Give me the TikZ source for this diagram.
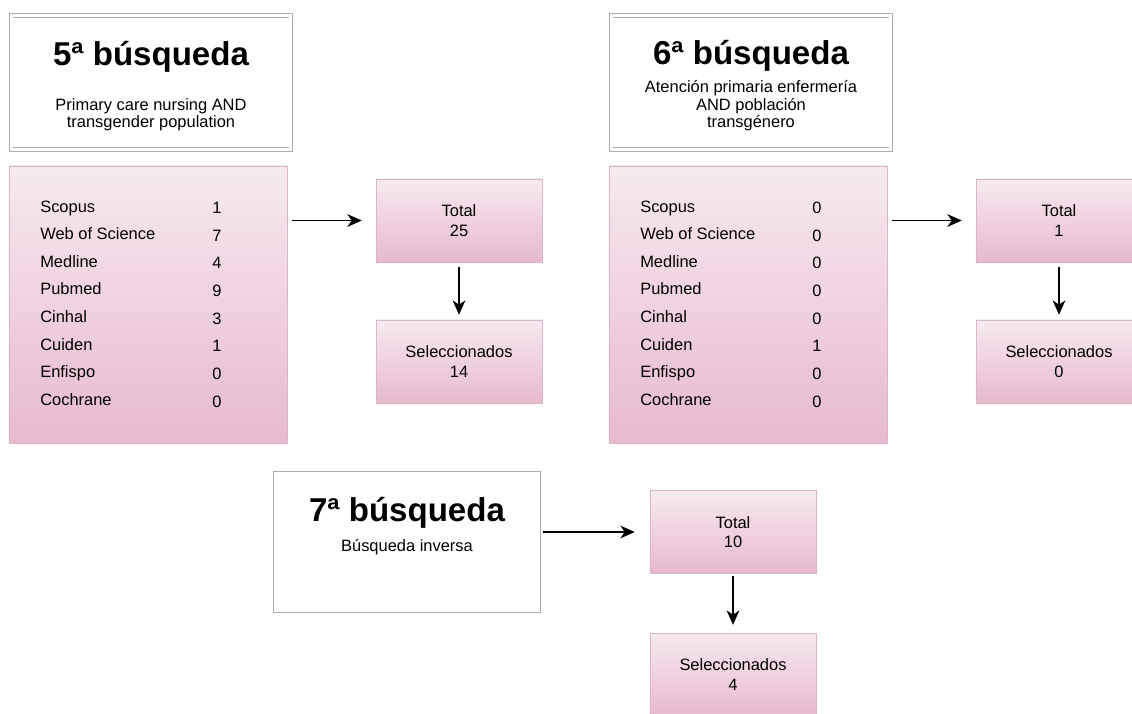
\documentclass[tikz,border=0pt]{standalone}
\usepackage{fontspec}
\setmainfont{Liberation Sans}
\usepackage{tikz}
\usetikzlibrary{arrows.meta,positioning,calc}

\definecolor{pinktop}{HTML}{F6EAF0}
\definecolor{pinkbot}{HTML}{E8B9CE}
\definecolor{pinkrim}{HTML}{D9B6C8}
\definecolor{framegray}{HTML}{ADADAD}

\begin{document}
\begin{tikzpicture}[
  x=0.025cm, y=-0.025cm,
  titlebox/.style={draw=framegray, line width=0.6pt, double=white,
                   double distance=2pt, fill=white, inner sep=0pt},
  pinkbox/.style={draw=pinkrim, line width=0.5pt, top color=pinktop,
                  bottom color=pinkbot, inner sep=0pt},
  totbox/.style={pinkbox, minimum width=4.15cm, minimum height=2.075cm,
                 align=center, font=\fontsize{11.7pt}{14pt}\selectfont},
  listbox/.style={pinkbox, minimum width=6.95cm, minimum height=6.925cm},
  head/.style={anchor=base, inner sep=0pt,
               font=\fontsize{23.5pt}{26pt}\selectfont\bfseries},
  subtext/.style={align=center, inner sep=0pt,
                  font=\fontsize{11.7pt}{12.4pt}\selectfont},
  rowname/.style={anchor=base west, inner sep=0pt,
                  font=\fontsize{11.7pt}{14pt}\selectfont},
  rowval/.style={anchor=base, inner sep=0pt,
                 font=\fontsize{11.7pt}{14pt}\selectfont},
  vec/.style={-{Stealth[length=3.6mm,width=3.2mm,inset=1.1mm]}, line width=0.75pt}]

\useasboundingbox (0,0) rectangle (1132,713);
\clip (0,0) rectangle (1132,713);

% ================= 5a busqueda ============================================
\node[titlebox, minimum width=6.99cm, minimum height=3.36cm] (t5) at (151,82.5) {};
\node[head] (t5h) at (151,65) {5ª búsqueda};
\node[subtext] (t5s) at (151,114.8) {Primary care nursing AND\\transgender population};

\node[listbox] (l5) at (148,304.5) {};
\foreach \nm/\v [count=\i] in {Scopus/1, Web of Science/7, Medline/4, Pubmed/9,
                               Cinhal/3, Cuiden/1, Enfispo/0, Cochrane/0}{
  \node[rowname] (s5\i) at (40, 184.4+27.6*\i) {\nm};
  \node[rowval]  (v5\i) at (217,185.6+27.7*\i) {\v};
}

\node[totbox] (tot5) at (459,220.5) {Total\\25};
\node[totbox] (sel5) at (459,361.5) {Seleccionados\\14};

\draw[vec, shorten <=3.5pt, shorten >=9.9pt] (l5.east |- tot5.west) -- (tot5.west);
\draw[vec, shorten <=3.3pt, shorten >=3.5pt] (tot5.south) -- (sel5.north);

% ================= 6a busqueda ============================================
\node[titlebox, minimum width=6.99cm, minimum height=3.36cm] (t6) at (751,82.5) {};
\node[head] (t6h) at (751,64.5) {6ª búsqueda};
\node[subtext] (t6s) at (751,105.7) {Atención primaria enfermería\\AND población\\transgénero};

\node[listbox] (l6) at (748,304.5) {};
\foreach \nm/\v [count=\i] in {Scopus/0, Web of Science/0, Medline/0, Pubmed/0,
                               Cinhal/0, Cuiden/1, Enfispo/0, Cochrane/0}{
  \node[rowname] (s6\i) at (640, 184.4+27.6*\i) {\nm};
  \node[rowval]  (v6\i) at (817,185.6+27.7*\i) {\v};
}

\node[totbox] (tot6) at (1059,220.5) {Total\\1};
\node[totbox] (sel6) at (1059,361.5) {Seleccionados\\0};

\draw[vec, shorten <=3.5pt, shorten >=9.9pt] (l6.east |- tot6.west) -- (tot6.west);
\draw[vec, shorten <=3.3pt, shorten >=3.5pt] (tot6.south) -- (sel6.north);

% ================= 7a busqueda ============================================
\node[titlebox, minimum width=6.59cm, minimum height=3.44cm] (t7) at (407,542) {};
\node[head] (t7h) at (407,521.7) {7ª búsqueda};
\node[subtext, anchor=base] (t7s) at (407,551) {Búsqueda inversa};

\node[totbox] (tot7) at (733,532) {Total\\10};
\node[totbox] (sel7) at (733,674.5) {Seleccionados\\4};

\draw[vec, shorten <=2.7pt, shorten >=10.6pt] (t7.east |- tot7.west) -- (tot7.west);
\draw[vec, shorten <=1.4pt, shorten >=5.6pt] (tot7.south) -- (sel7.north);

\end{tikzpicture}
\end{document}
